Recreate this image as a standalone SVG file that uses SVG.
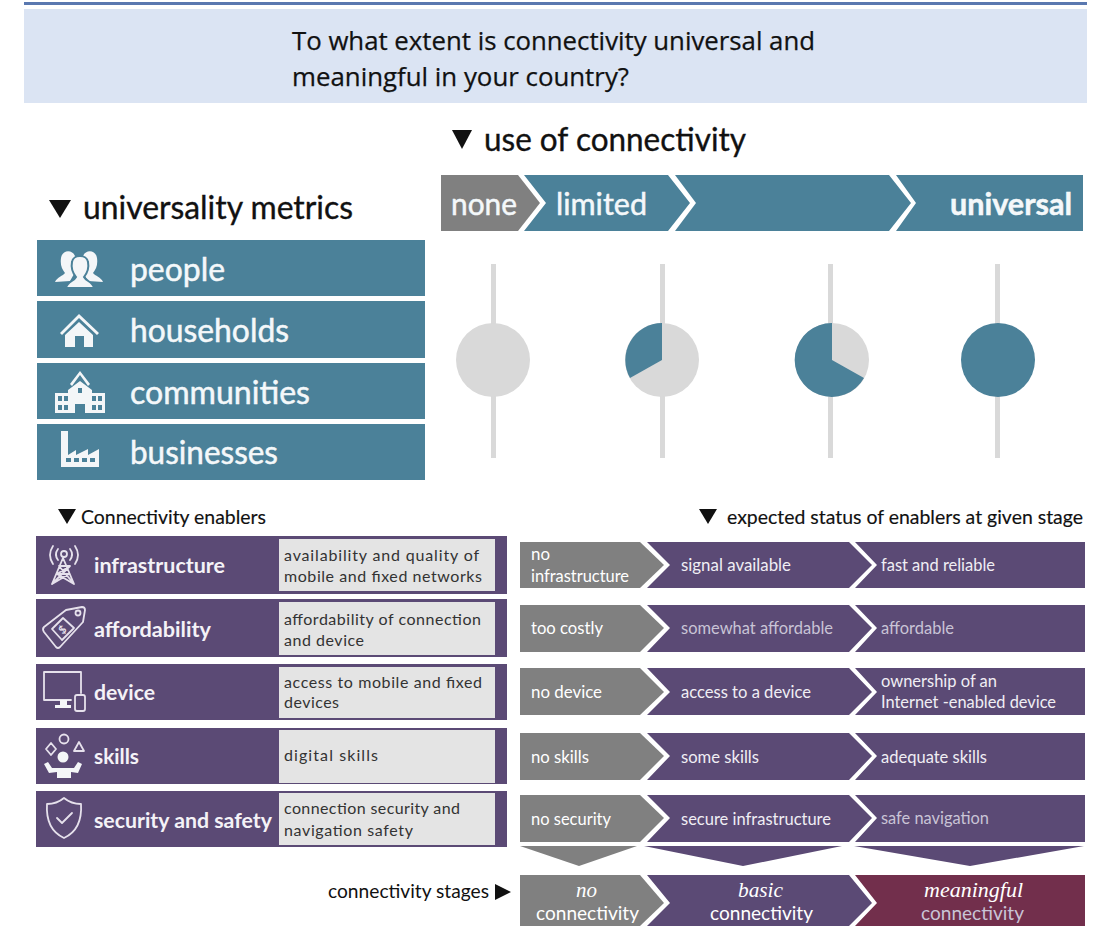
<svg xmlns="http://www.w3.org/2000/svg" width="1096" height="926" viewBox="0 0 1096 926">
<style>
text{font-family:"Lato","Liberation Sans",sans-serif}
.t{fill:#4b8199}.p{fill:#5b4a75}.g{fill:#808080}.m{fill:#722f4c}.b{fill:#e4e4e4}.l{fill:#d9d9d9}
.k{fill:#111}.w{fill:#fff}.d{fill:#f0eef4}.f{fill:#c9c4d6}
.ti{font-family:"Open Sans","Liberation Sans",sans-serif;font-size:25px;fill:#111;stroke:#111;stroke-width:.25}
.h{font-size:32px;stroke:#111;stroke-width:.35}
.tl{font-size:33px;fill:#f4f8fa;stroke:#f4f8fa;stroke-width:.5}
.bar{font-size:31px;fill:#f4f8fa;stroke:#f4f8fa;stroke-width:.5}
.sub{font-size:19px;stroke:#111;stroke-width:.15}.lb{font-size:21px;font-weight:700;fill:#f4f2f7}.ds{font-size:16px;fill:#333}
.r{font-size:17px}.st{font-size:20px}.it{font-family:"Liberation Serif",serif;font-style:italic;font-weight:400;font-size:21px}
.ic{fill:#f4f6f8}.il{fill:none;stroke:#e6e1ec;stroke-width:1.8;stroke-linejoin:round;stroke-linecap:round}
</style>
<g id="header">
<rect x="24" y="2" width="1063" height="3" fill="#5a78b0"/>
<rect x="24" y="9" width="1063" height="94" fill="#dbe4f3"/>
<text class="ti" x="292" y="50" textLength="523" lengthAdjust="spacingAndGlyphs">To what extent is connectivity universal and</text>
<text class="ti" x="292" y="86" textLength="337" lengthAdjust="spacingAndGlyphs">meaningful in your country?</text>
</g>
<g id="use-heading">
<path class="k" d="M452 130H472L462 149Z"/>
<text class="h k" x="484" y="151" textLength="262" lengthAdjust="spacingAndGlyphs">use of connectivity</text>
</g>
<g id="metrics-heading">
<path class="k" d="M49 200H71L60 218Z"/>
<text class="h k" x="83" y="219" textLength="270" lengthAdjust="spacingAndGlyphs">universality metrics</text>
</g>
<g id="people">
<rect class="t" x="37" y="240" width="388" height="56"/>
<path class="ic" d="M55 282C57 277 63 276 65 273C62 269 60 265 61 258C62 250 72 249 75 256C76 262 76 268 74 274L70 281ZM103 282C101 277 95 276 93 273C96 269 98 265 97 258C96 250 86 249 83 256C82 262 82 268 84 274L88 281Z"/>
<path class="ic" stroke="#4b8199" stroke-width="2" d="M66 288C67 282 74 281 76 277C72 272 71 267 72 262C73 254 87 254 88 262C89 267 88 272 84 277C86 281 93 282 94 288Z"/>
<text class="tl" x="130" y="281" textLength="95" lengthAdjust="spacingAndGlyphs">people</text>
</g>
<g id="households">
<rect class="t" x="37" y="301" width="388" height="57"/>
<path class="ic" d="M60 333L79 314L99 333L97 335L79 318L62 335ZM65 335L79 322L93 335V347H84V336H75V347H65Z"/>
<text class="tl" x="130" y="342" textLength="159" lengthAdjust="spacingAndGlyphs">households</text>
</g>
<g id="communities">
<rect class="t" x="37" y="363" width="388" height="56"/>
<path class="ic" fill-rule="evenodd" d="M70 384L80 371L90 384L88 386L80 375L72 386ZM55 393H68V390L80 381L92 390V393H105V413H85V404H75V413H55ZM58 396V401H62V396ZM64 396V401H68V396ZM58 405V410H62V405ZM64 405V410H68V405ZM92 396V401H96V396ZM98 396V401H102V396ZM92 405V410H96V405ZM98 405V410H102V405ZM78 388V393H82V388Z"/>
<text class="tl" x="130" y="404" textLength="180" lengthAdjust="spacingAndGlyphs">communities</text>
</g>
<g id="businesses">
<rect class="t" x="37" y="424" width="388" height="56"/>
<path class="ic" fill-rule="evenodd" d="M61 431H68V455L76 450V455L88 449V455L99 449V467H61ZM66 458V462H71V458ZM74 458V462H79V458ZM82 458V462H87V458ZM90 458V462H95V458Z"/>
<text class="tl" x="130" y="464" textLength="148" lengthAdjust="spacingAndGlyphs">businesses</text>
</g>
<g id="use-none">
<path class="g" d="M441 175H518L540 203L518 231H441Z"/>
<text class="bar" x="451" y="215" textLength="66" lengthAdjust="spacingAndGlyphs">none</text>
</g>
<g id="use-limited">
<path class="t" d="M524 175H668L690 203L668 231H524L546 203Z"/>
<text class="bar" x="556" y="215" textLength="91" lengthAdjust="spacingAndGlyphs">limited</text>
</g>
<g id="use-mid">
<path class="t" d="M675 175H889L911 203L889 231H675L696 203Z"/>
</g>
<g id="use-universal">
<path class="t" d="M896 175H1083V231H896L916 203Z"/>
<text class="bar" x="950" y="215" font-weight="700" textLength="122" lengthAdjust="spacingAndGlyphs">universal</text>
</g>
<g id="pie-none">
<rect class="l" x="491" y="264" width="5" height="194"/>
<circle class="l" cx="493" cy="360" r="37"/>
</g>
<g id="pie-limited">
<rect class="l" x="660" y="264" width="5" height="194"/>
<circle class="l" cx="662" cy="360" r="37"/>
<path class="t" d="M662 360V323A37 37 0 0 0 630 378Z"/>
</g>
<g id="pie-high">
<rect class="l" x="828" y="264" width="5" height="194"/>
<circle class="l" cx="832" cy="360" r="37"/>
<path class="t" d="M832 360V323A37 37 0 1 0 864 378Z"/>
</g>
<g id="pie-universal">
<rect class="l" x="995" y="264" width="5" height="194"/>
<circle class="t" cx="998" cy="360" r="37"/>
</g>
<g id="enablers-heading">
<path class="k" d="M58 509H76L67 524Z"/>
<text class="sub k" x="81" y="524" textLength="185" lengthAdjust="spacingAndGlyphs">Connectivity enablers</text>
</g>
<g id="status-heading">
<path class="k" d="M699 509H717L708 524Z"/>
<text class="sub k" x="727" y="524" textLength="356" lengthAdjust="spacingAndGlyphs">expected status of enablers at given stage</text>
</g>
<g id="infrastructure">
<rect class="p" x="36" y="536" width="471" height="58"/>
<rect class="b" x="279" y="539" width="216" height="52"/>
<path class="il" d="M63 558L52 584L69 574H57L70 566H59M63 558L74 584L57 574M69 574M70 566L52 584M59 566L74 584"/>
<circle class="il" cx="64" cy="554" r="3"/>
<path class="il" d="M53 546C49 552 49 558 53 564M75 546C79 552 79 558 75 564M58 549C55 553 55 556 58 560M70 549C73 553 73 556 70 560"/>
<text class="lb" x="94" y="573" textLength="131" lengthAdjust="spacingAndGlyphs">infrastructure</text>
<text class="ds" x="284" y="561" textLength="195" lengthAdjust="spacing">availability and quality of</text>
<text class="ds" x="284" y="582" textLength="198" lengthAdjust="spacing">mobile and fixed networks</text>
</g>
<g id="affordability">
<rect class="p" x="36" y="599" width="471" height="58"/>
<rect class="b" x="279" y="602" width="216" height="53"/>
<path class="il" d="M44 627L66 610L82 607Q85 607 85 610L83 622L60 647Q58 649 56 647L44 632Q42 629 44 627Z"/>
<path class="il" d="M52 629L63 618L74 628L62 640Z"/>
<circle class="il" cx="78" cy="613" r="2.5"/>
<text x="59" y="633" font-size="11" font-weight="700" fill="#e6e1ec" transform="rotate(-40 63 629)">$</text>
<text class="lb" x="94" y="637" textLength="117" lengthAdjust="spacingAndGlyphs">affordability</text>
<text class="ds" x="284" y="625" textLength="197" lengthAdjust="spacing">affordability of connection</text>
<text class="ds" x="284" y="646" textLength="80" lengthAdjust="spacing">and device</text>
</g>
<g id="device">
<rect class="p" x="36" y="664" width="471" height="56"/>
<rect class="b" x="279" y="667" width="216" height="51"/>
<path class="il" d="M44 672H81V693M71 700H44V672"/>
<path class="ic" d="M55 705H71V708H55ZM60 700H67V705H60Z"/>
<rect class="il" x="75" y="695" width="10" height="16" rx="2"/>
<text class="lb" x="94" y="700" textLength="61" lengthAdjust="spacingAndGlyphs">device</text>
<text class="ds" x="284" y="688" textLength="198" lengthAdjust="spacing">access to mobile and fixed</text>
<text class="ds" x="284" y="708" textLength="55" lengthAdjust="spacing">devices</text>
</g>
<g id="skills">
<rect class="p" x="36" y="728" width="471" height="56"/>
<rect class="b" x="279" y="730" width="216" height="53"/>
<circle class="il" cx="64" cy="739" r="4.5"/>
<path class="il" d="M51 743L56 749L51 755L46 749ZM79 742L84 751H74Z"/>
<circle class="ic" cx="63" cy="757" r="5.5"/>
<path class="ic" d="M44 764L48 762L52 768H74L78 762L82 764L78 773L71 772V778H57V772L49 773Z"/>
<text class="lb" x="94" y="764" textLength="45" lengthAdjust="spacingAndGlyphs">skills</text>
<text class="ds" x="284" y="761" textLength="94" lengthAdjust="spacing">digital skills</text>
</g>
<g id="security">
<rect class="p" x="36" y="791" width="471" height="56"/>
<rect class="b" x="279" y="793" width="216" height="52"/>
<path class="il" d="M64 798C70 803 75 804 81 804C82 820 77 832 64 838C51 832 46 820 47 804C53 804 58 803 64 798Z"/>
<path class="il" d="M57 818L62 823L72 813"/>
<text class="lb" x="94" y="828" textLength="178" lengthAdjust="spacingAndGlyphs">security and safety</text>
<text class="ds" x="284" y="814" textLength="176" lengthAdjust="spacing">connection security and</text>
<text class="ds" x="284" y="836" textLength="129" lengthAdjust="spacing">navigation safety</text>
</g>
<g id="row-infrastructure">
<path class="g" d="M520 542H640L664 565L640 588H520Z"/>
<path class="p" d="M647 542H849L872 565L849 588H647L670 565Z"/>
<path class="p" d="M855 542H1085V588H855L877 565Z"/>
<text class="r w" x="531" y="560" textLength="19" lengthAdjust="spacingAndGlyphs">no</text>
<text class="r w" x="531" y="582" textLength="98" lengthAdjust="spacingAndGlyphs">infrastructure</text>
<text class="r d" x="681" y="571" textLength="110" lengthAdjust="spacingAndGlyphs">signal available</text>
<text class="r d" x="881" y="571" textLength="114" lengthAdjust="spacingAndGlyphs">fast and reliable</text>
</g>
<g id="row-affordability">
<path class="g" d="M520 605H640L664 628L640 652H520Z"/>
<path class="p" d="M647 605H849L872 628L849 652H647L670 628Z"/>
<path class="p" d="M855 605H1085V652H855L877 628Z"/>
<text class="r w" x="531" y="634" textLength="72" lengthAdjust="spacingAndGlyphs">too costly</text>
<text class="r f" x="681" y="634" textLength="152" lengthAdjust="spacingAndGlyphs">somewhat affordable</text>
<text class="r f" x="881" y="634" textLength="73" lengthAdjust="spacingAndGlyphs">affordable</text>
</g>
<g id="row-device">
<path class="g" d="M520 668H640L664 692L640 715H520Z"/>
<path class="p" d="M647 668H849L872 692L849 715H647L670 692Z"/>
<path class="p" d="M855 668H1085V715H855L877 692Z"/>
<text class="r w" x="531" y="698" textLength="71" lengthAdjust="spacingAndGlyphs">no device</text>
<text class="r d" x="681" y="698" textLength="130" lengthAdjust="spacingAndGlyphs">access to a device</text>
<text class="r d" x="881" y="687" textLength="116" lengthAdjust="spacingAndGlyphs">ownership of an</text>
<text class="r d" x="881" y="708" textLength="175" lengthAdjust="spacingAndGlyphs">Internet -enabled device</text>
</g>
<g id="row-skills">
<path class="g" d="M520 733H640L664 756L640 780H520Z"/>
<path class="p" d="M647 733H849L872 756L849 780H647L670 756Z"/>
<path class="p" d="M855 733H1085V780H855L877 756Z"/>
<text class="r w" x="531" y="763" textLength="58" lengthAdjust="spacingAndGlyphs">no skills</text>
<text class="r d" x="681" y="763" textLength="78" lengthAdjust="spacingAndGlyphs">some skills</text>
<text class="r d" x="881" y="763" textLength="106" lengthAdjust="spacingAndGlyphs">adequate skills</text>
</g>
<g id="row-security">
<path class="g" d="M520 795H640L664 818L640 842H520Z"/>
<path class="p" d="M647 795H849L872 818L849 842H647L670 818Z"/>
<path class="p" d="M855 795H1085V842H855L877 818Z"/>
<text class="r w" x="531" y="825" textLength="80" lengthAdjust="spacingAndGlyphs">no security</text>
<text class="r d" x="681" y="825" textLength="150" lengthAdjust="spacingAndGlyphs">secure infrastructure</text>
<text class="r f" x="881" y="824" textLength="108" lengthAdjust="spacingAndGlyphs">safe navigation</text>
</g>
<g id="connectors">
<path class="g" d="M520 846H637L579 866Z"/>
<path class="p" d="M644 846H842L743 866Z"/>
<path class="p" d="M854 846H1084L970 866Z"/>
</g>
<g id="stages-label">
<text class="st k" x="328" y="898" textLength="161" lengthAdjust="spacingAndGlyphs">connectivity stages</text>
<path class="k" d="M495 884L511 892L495 900Z"/>
</g>
<g id="stage-no">
<path class="g" d="M520 875H640L664 903L640 926H520Z"/>
<text class="it w" x="576" y="897" textLength="21" lengthAdjust="spacingAndGlyphs">no</text>
<text class="st w" x="536" y="920" textLength="103" lengthAdjust="spacingAndGlyphs">connectivity</text>
</g>
<g id="stage-basic">
<path class="p" d="M647 875H849L872 903L849 926H647L670 903Z"/>
<text class="it w" x="738" y="897" textLength="45" lengthAdjust="spacingAndGlyphs">basic</text>
<text class="st w" x="710" y="920" textLength="103" lengthAdjust="spacingAndGlyphs">connectivity</text>
</g>
<g id="stage-meaningful">
<path class="m" d="M855 875H1085V926H855L877 903Z"/>
<text class="it w" x="924" y="897" textLength="99" lengthAdjust="spacingAndGlyphs">meaningful</text>
<text class="st f" x="921" y="920" textLength="103" lengthAdjust="spacingAndGlyphs">connectivity</text>
</g>
</svg>
